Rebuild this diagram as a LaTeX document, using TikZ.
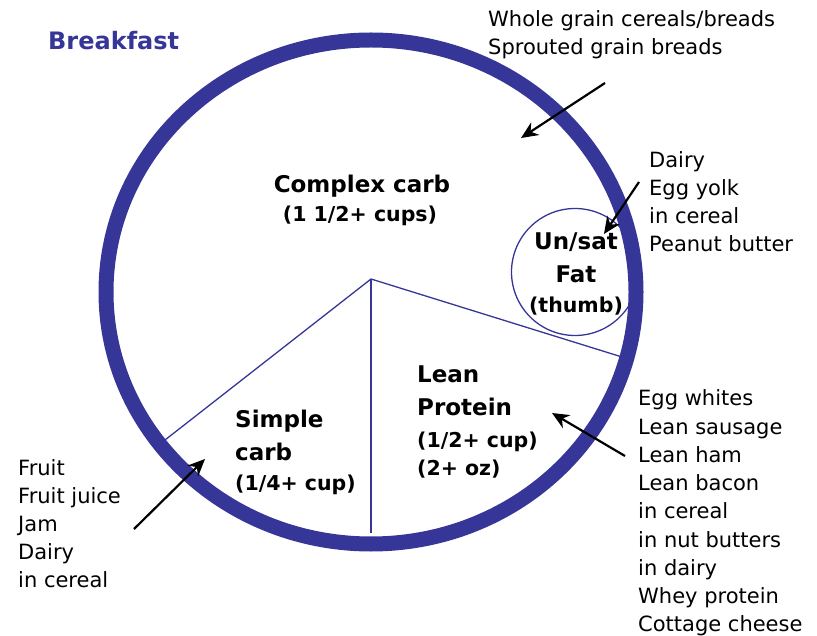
\documentclass[tikz,border=0pt]{standalone}
\usepackage{fontspec}
\setmainfont{DejaVu Sans}
\usetikzlibrary{arrows.meta}

\definecolor{plateblue}{RGB}{54,54,153}
\tikzset{
  rim/.style={draw=plateblue,line width=15pt},
  divider/.style={draw=plateblue,line width=1.3pt},
  pointer/.style={draw=black,line width=2.2pt,-{Stealth[length=17pt,width=15pt]}},
  food/.style={anchor=base west,inner sep=0pt,font=\fontsize{21}{25}\selectfont},
  group/.style={inner sep=0pt,font=\fontsize{23}{28}\bfseries\selectfont},
  amount/.style={inner sep=0pt,font=\fontsize{20.5}{24}\bfseries\selectfont},
}

\begin{document}
\begin{tikzpicture}[x=1pt,y=-1pt]
  \useasboundingbox (0,0) rectangle (817,636);
  \node[anchor=base west,inner sep=0pt,text=plateblue,
        font=\fontsize{24}{28}\bfseries\selectfont] (title) at (48,50) {Breakfast};

  % the plate
  \coordinate (hub) at (371,279);
  \coordinate (cutL) at (165,440);
  \coordinate (cutB) at (371,533);
  \coordinate (cutR) at (622,357);
  \draw[divider] (cutL) -- (hub) -- (cutR);
  \draw[divider] (hub) -- (cutB);
  \draw[rim] (371,292) ellipse [x radius=265, y radius=252];
  \node[circle,draw=plateblue,line width=1.3pt,minimum size=127pt,inner sep=0pt] (fatcup) at (575,272) {};

  % portions
  \node[group,anchor=base] (complex) at (362,193) {Complex carb};
  \node[amount,anchor=base] (complexamt) at (360,222) {(1 1/2+ cups)};
  \node[group,anchor=base] (unsat) at (576,250) {Un/sat};
  \node[group,anchor=base] (fat) at (576,283) {Fat};
  \node[amount,anchor=base] (thumb) at (576,313) {(thumb)};
  \node[group,anchor=base west] (lean) at (417,383) {Lean};
  \node[group,anchor=base west] (protein) at (417,416) {Protein};
  \node[amount,anchor=base west] (proteincup) at (417,447) {(1/2+ cup)};
  \node[amount,anchor=base west] (proteinoz) at (417,475) {(2+ oz)};
  \node[group,anchor=base west] (simple) at (235,427) {Simple};
  \node[group,anchor=base west] (carb) at (235,460) {carb};
  \node[amount,anchor=base west] (simpleamt) at (235,490) {(1/4+ cup)};

  % food lists
  \foreach \item [count=\i from 0] in {Whole grain cereals/breads, Sprouted grain breads}
    \node[food] (grain\i) at (488,27+28*\i) {\item};
  \foreach \item [count=\i from 0] in {Dairy, Egg yolk, in cereal, Peanut butter}
    \node[food] (fats\i) at (649,168+27.7*\i) {\item};
  \foreach \item [count=\i from 0] in {Egg whites, Lean sausage, Lean ham, Lean bacon,
      in cereal, in nut butters, in dairy, Whey protein, Cottage cheese}
    \node[food] (prot\i) at (638,406+28.2*\i) {\item};
  \foreach \item [count=\i from 0] in {Fruit, Fruit juice, Jam, Dairy, in cereal}
    \node[food] (fruit\i) at (18,475+28*\i) {\item};

  % pointers
  \coordinate (grainTail) at (605,83);
  \coordinate (grainTip) at (521,138);
  \coordinate (fatTail) at (639,182);
  \coordinate (fatTip) at (604,234);
  \coordinate (protTail) at (625,456);
  \coordinate (protTip) at (552,413);
  \coordinate (fruitTail) at (134,529);
  \coordinate (fruitTip) at (205,459);
  \draw[pointer] (grainTail) -- (grainTip);
  \draw[pointer] (fatTail) -- (fatTip);
  \draw[pointer] (protTail) -- (protTip);
  \draw[pointer] (fruitTail) -- (fruitTip);
\end{tikzpicture}
\end{document}
